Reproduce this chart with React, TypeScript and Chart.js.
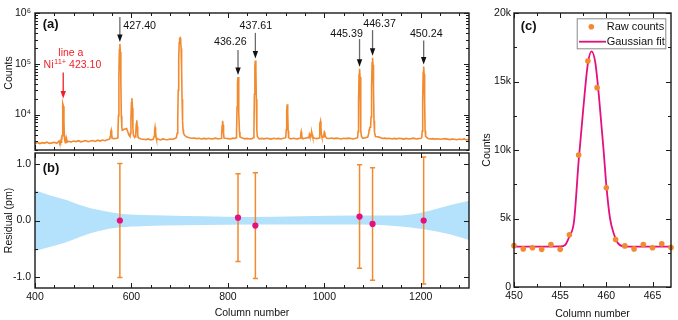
import React, { useEffect, useRef } from 'react';
import { Chart, registerables } from 'chart.js';

Chart.register(...registerables);

const FONT = '"Liberation Sans", Arial, Helvetica, sans-serif';
const ORANGE = '#f28a30';
const MAGENTA = '#e5107f';
const BAND = '#b4e1fb';
const AXIS = '#1a1a1a';
const RED = '#f01e28';
const TEXT = '#111111';
const ARROW_SHAFT = '#6a6a6a';

// ---------------- Panel (a): spectrum ----------------
const baselineStart = 400;
const baselineStep = 5;
const baselineCounts = [
  2700, 2820, 2680, 2790, 2740, 2850, 2700, 2760, 2830, 2720,
  2950, 2800, 2870, 2900, 2960, 2880, 3010, 2930, 3050, 2900,
  2980, 3060, 2920, 3000, 3080, 2950, 3120, 3000, 3150, 3050,
  3170, 3100, 3200, 3350, 3400, 3600, 4800, 5100, 5300, 3900,
  3700, 3800, 3600, 3500, 3300, 3250, 3200, 3300, 3150, 3250,
  3200, 3280, 3150, 3300, 3220, 3180, 3300, 3250, 3350, 3400,
  3800, 3700, 3650, 3600, 3500, 3420, 3450, 3350, 3400, 3300,
  3380, 3320, 3400, 3300, 3350, 3420, 3300, 3380, 3330, 3400,
  3350, 3300, 3420, 3380, 3300, 3360, 3450, 3320, 3380, 3300,
  3350, 3420, 3400, 3300, 3380, 3320, 3400, 3350, 3280, 3400,
  3330, 3380, 3300, 3420, 3450, 3350, 3300, 3400, 3350, 3320,
  3400, 3350, 3420, 3500, 3450, 3380, 3420, 3350, 3400, 3450,
  3500, 3400, 3380, 3450, 3350, 3420, 3380, 3300, 3400, 3350,
  3420, 3380, 3300, 3400, 3360, 3450, 3400, 3500, 3600, 5300,
  3600, 3550, 3650, 3550, 3380, 3420, 3350, 3400, 3300, 3380,
  3320, 3400, 3350, 3280, 3380, 3300, 3350, 3420, 3300, 3350,
  3400, 3550, 3450, 3380, 3300, 3350, 3280, 3320, 3250, 3300,
  3350, 3280, 3200, 3300, 3250, 3180, 3280, 3220, 3300, 3150,
  3250,
];

const peakCols = [
  [555, 556, 557, 558, 559, 560],
  [571, 572, 573, 574, 575, 576, 577, 578, 579, 580, 581],
  [597, 598, 599, 600, 601, 602, 603, 604],
  [608, 609, 610, 611, 612, 613, 614],
  [646, 647, 648, 649, 650, 651, 652],
  [693, 695, 696, 697, 698, 699, 700, 701, 702, 703, 704, 705, 706, 707, 708, 710],
  [786, 787, 788, 789, 790, 791, 792],
  [817, 818, 819, 820, 821, 822, 823, 824, 825],
  [853, 854, 855, 856, 857, 858, 859, 860, 861],
  [920, 921, 922, 923, 924, 925, 926],
  [950, 951, 952, 953, 954],
  [968, 969, 970, 971, 972, 973, 974, 975, 976],
  [989, 990, 991, 992, 993, 994, 995],
  [998, 999, 1000, 1001, 1002],
  [1069, 1070, 1071, 1072, 1073, 1074, 1075, 1076, 1077],
  [1090, 1092, 1093, 1094, 1095, 1096, 1097, 1098, 1099, 1100, 1101, 1102, 1103, 1104, 1106],
  [1202, 1203, 1204, 1205, 1206, 1207, 1208, 1209, 1210],
];
const peakCounts = [
  [3300, 3700, 4500, 4900, 4100, 3400],
  [3500, 4300, 9500, 62000, 190000, 246000, 170000, 45000, 9500, 5600, 4900],
  [3700, 4300, 8500, 17000, 21000, 13500, 5500, 4000],
  [3600, 4300, 6500, 7700, 5800, 4000, 3500],
  [3250, 3700, 4800, 5600, 4700, 3600, 3250],
  [3500, 4300, 8000, 30000, 120000, 260000, 315000, 324000, 300000, 200000, 80000, 20000, 7500, 5000, 4300, 3900],
  [3400, 4000, 6000, 7500, 6200, 4200, 3450],
  [3500, 4500, 14000, 42000, 54600, 38000, 11000, 4500, 3600],
  [3500, 4800, 25000, 90000, 116000, 80000, 20000, 5000, 3700],
  [3500, 5000, 12000, 15900, 11000, 4800, 3500],
  [3450, 4100, 4600, 4000, 3400],
  [3500, 4000, 3700, 3600, 3900, 4300, 4400, 4000, 3600],
  [3450, 4500, 6500, 7400, 5500, 4000, 3600],
  [3600, 4000, 4500, 4300, 3700],
  [3500, 4600, 18000, 62000, 79600, 55000, 15000, 4800, 3700],
  [3600, 4200, 5000, 5500, 5600, 6000, 9000, 35000, 105000, 131000, 95000, 30000, 7500, 4500, 3700],
  [3500, 4700, 20000, 68000, 88500, 62000, 17000, 4800, 3700],
];

const lineCols = [576, 821, 857, 1073, 1100, 1206];
const lineLabels = ['427.40', '436.26', '437.61', '445.39', '446.37', '450.24'];
const linePeaks = [246000, 54600, 116000, 79600, 131000, 88500];
const lineACol = 458.5;
const lineAName = 'line a';
const lineAIon = 'Ni';
const lineACharge = '11+';
const lineAWave = ' 423.10';

// ---------------- Panel (b): residuals ----------------
const residCols = [576, 821, 857, 1073, 1100, 1206];
const residValues = [0.0, 0.05, -0.09, 0.07, -0.06, 0.0];
const residErrors = [1.015, 0.78, 0.94, 0.92, 1.0, 1.13];
const bandCols = [400, 430, 460, 500, 530, 577, 620, 670, 750, 840, 950, 1075, 1160, 1207, 1260, 1300];
const bandUpper = [0.54, 0.45, 0.38, 0.26, 0.19, 0.12, 0.1, 0.09, 0.075, 0.063, 0.075, 0.087, 0.09, 0.15, 0.27, 0.35];
const bandLower = [-0.54, -0.47, -0.4, -0.27, -0.19, -0.12, -0.1, -0.09, -0.08, -0.07, -0.07, -0.07, -0.105, -0.157, -0.245, -0.345];

// ---------------- Panel (c): line a fit ----------------
const rawCols = [450, 451, 452, 453, 454, 455, 456, 457, 458, 459, 460, 461, 462, 463, 464, 465, 466, 467];
const rawCounts = [3020, 2780, 2860, 2750, 3100, 2750, 3810, 9630, 16500, 14550, 7250, 3460, 3000, 2780, 3100, 2860, 3150, 2880];
const fitCols = [450, 452, 454, 455, 455.5, 456, 456.5, 457, 457.5, 458, 458.4, 458.8, 459.2, 459.7, 460, 460.4, 460.8, 461.2, 461.8, 462.5, 464, 467];
const fitCounts = [2950, 2950, 2950, 2960, 3050, 3700, 4800, 9200, 13000, 16300, 17200, 16400, 13900, 10000, 7400, 5000, 3900, 3250, 2970, 2950, 2950, 2950];

const SUP: Record<number, string> = { 3: '³', 4: '⁴', 5: '⁵', 6: '⁶' };

function isPow10(v: number) {
  const l = Math.log10(v);
  return Math.abs(l - Math.round(l)) < 1e-9;
}
function isMult(v: number, m: number) {
  const r = v / m;
  return Math.abs(r - Math.round(r)) < 1e-9;
}

function buildSpectrum() {
  const groups = [{ cols: rawCols, counts: rawCounts }].concat(
    peakCols.map((c, i) => ({ cols: c, counts: peakCounts[i] }))
  );
  const pts: { x: number; y: number }[] = [];
  baselineCounts.forEach((v, i) => {
    const x = baselineStart + i * baselineStep;
    if (groups.some((g) => x >= g.cols[0] && x <= g.cols[g.cols.length - 1])) return;
    pts.push({ x, y: v });
  });
  groups.forEach((g) => g.cols.forEach((c, j) => pts.push({ x: c, y: g.counts[j] })));
  pts.sort((a, b) => a.x - b.x);
  return pts;
}

function framePlugin(xMajor: (v: number) => boolean, yMajor: (v: number) => boolean) {
  return {
    id: 'frame',
    afterDatasetsDraw(chart: any) {
      const { ctx, chartArea: a, scales } = chart;
      const xs = scales.x;
      const ys = scales.y;
      ctx.save();
      ctx.strokeStyle = AXIS;
      ctx.lineWidth = 1;
      ctx.beginPath();
      xs.ticks.forEach((t: any) => {
        const px = Math.round(xs.getPixelForValue(t.value)) + 0.5;
        if (px < a.left - 0.5 || px > a.right + 0.5) return;
        const len = xMajor(t.value) ? 5 : 3;
        ctx.moveTo(px, a.bottom);
        ctx.lineTo(px, a.bottom - len);
        ctx.moveTo(px, a.top);
        ctx.lineTo(px, a.top + len);
      });
      ys.ticks.forEach((t: any) => {
        const py = Math.round(ys.getPixelForValue(t.value)) + 0.5;
        if (py < a.top - 0.5 || py > a.bottom + 0.5) return;
        const len = yMajor(t.value) ? 5 : 3;
        ctx.moveTo(a.left, py);
        ctx.lineTo(a.left + len, py);
        ctx.moveTo(a.right, py);
        ctx.lineTo(a.right - len, py);
      });
      ctx.stroke();
      ctx.lineWidth = 1.4;
      ctx.strokeRect(a.left, a.top, a.right - a.left, a.bottom - a.top);
      ctx.restore();
    },
  };
}

function panelLabel(ctx: CanvasRenderingContext2D, text: string, x: number, y: number) {
  ctx.save();
  ctx.font = `bold 13px ${FONT}`;
  ctx.fillStyle = TEXT;
  ctx.textAlign = 'left';
  ctx.textBaseline = 'middle';
  ctx.fillText(text, x, y);
  ctx.restore();
}

function drawArrow(ctx: CanvasRenderingContext2D, x: number, yTop: number, yTip: number, shaft: string, head: string) {
  ctx.save();
  ctx.strokeStyle = shaft;
  ctx.lineWidth = 1.3;
  ctx.beginPath();
  ctx.moveTo(x, yTop);
  ctx.lineTo(x, yTip - 6);
  ctx.stroke();
  ctx.fillStyle = head;
  ctx.beginPath();
  ctx.moveTo(x - 2.7, yTip - 7.5);
  ctx.lineTo(x + 2.7, yTip - 7.5);
  ctx.lineTo(x, yTip);
  ctx.closePath();
  ctx.fill();
  ctx.restore();
}

const arrowStyle = [
  { len: 25, dx: 3.5, dy: 9, align: 'left' },
  { len: 25, dx: -7.7, dy: -8.3, align: 'center' },
  { len: 25.6, dx: 0.5, dy: -6.7, align: 'center' },
  { len: 27.7, dx: -13, dy: -4.7, align: 'center' },
  { len: 25.7, dx: 7, dy: -6, align: 'center' },
  { len: 24, dx: 2.6, dy: -6.7, align: 'center' },
];

const annotPluginA = {
  id: 'annotA',
  afterDraw(chart: any) {
    const { ctx, chartArea: a, scales } = chart;
    const xs = scales.x;
    const ys = scales.y;
    ctx.save();
    lineCols.forEach((c, i) => {
      const st = arrowStyle[i];
      const x = xs.getPixelForValue(c);
      const tip = ys.getPixelForValue(linePeaks[i]) - 2;
      const top = tip - st.len;
      drawArrow(ctx, x, top, tip, ARROW_SHAFT, '#111');
      ctx.font = `10.7px ${FONT}`;
      ctx.fillStyle = TEXT;
      ctx.textAlign = st.align as CanvasTextAlign;
      ctx.textBaseline = 'middle';
      ctx.fillText(lineLabels[i], x + st.dx, top + st.dy);
    });
    const ax = xs.getPixelForValue(lineACol);
    const aTip = ys.getPixelForValue(Math.max(...rawCounts)) - 5;
    const aTop = aTip - 26;
    drawArrow(ctx, ax, aTop, aTip, RED, RED);
    ctx.fillStyle = RED;
    ctx.textBaseline = 'middle';
    ctx.textAlign = 'center';
    ctx.font = `10.5px ${FONT}`;
    ctx.fillText(lineAName, ax + 7.7, aTop - 19.7);
    const big = `10.5px ${FONT}`;
    const small = `7.5px ${FONT}`;
    ctx.font = big;
    const w1 = ctx.measureText(lineAIon).width;
    const w3 = ctx.measureText(lineAWave).width;
    ctx.font = small;
    const w2 = ctx.measureText(lineACharge).width;
    let tx = ax + 9.2 - (w1 + w2 + w3 + 0.5) / 2;
    const ty = aTop - 7;
    ctx.textAlign = 'left';
    ctx.font = big;
    ctx.fillText(lineAIon, tx, ty);
    tx += w1 + 0.5;
    ctx.font = small;
    ctx.fillText(lineACharge, tx, ty - 4);
    tx += w2;
    ctx.font = big;
    ctx.fillText(lineAWave, tx, ty);
    ctx.save();
    ctx.translate(9.5, 73);
    ctx.rotate(-Math.PI / 2);
    ctx.fillStyle = TEXT;
    ctx.textAlign = 'center';
    ctx.font = `10.5px ${FONT}`;
    ctx.fillText('Counts', 0, 0);
    ctx.restore();
    ctx.restore();
    panelLabel(ctx, '(a)', a.left + 7.7, a.top + 11.3);
  },
};

const errorBarPlugin = {
  id: 'errbars',
  beforeDatasetDraw(chart: any, args: any) {
    if (args.index !== 2) return;
    const { ctx, scales } = chart;
    const xs = scales.x;
    const ys = scales.y;
    ctx.save();
    ctx.strokeStyle = ORANGE;
    ctx.lineWidth = 1.5;
    ctx.beginPath();
    residCols.forEach((c, i) => {
      const x = xs.getPixelForValue(c);
      const y1 = ys.getPixelForValue(residValues[i] + residErrors[i]);
      const y2 = ys.getPixelForValue(residValues[i] - residErrors[i]);
      ctx.moveTo(x, y1);
      ctx.lineTo(x, y2);
      ctx.moveTo(x - 2.6, y1);
      ctx.lineTo(x + 2.6, y1);
      ctx.moveTo(x - 2.6, y2);
      ctx.lineTo(x + 2.6, y2);
    });
    ctx.stroke();
    ctx.restore();
  },
  afterDraw(chart: any) {
    panelLabel(chart.ctx, '(b)', chart.chartArea.left + 7.7, chart.chartArea.top + 15.5);
  },
};

const legendPluginC = {
  id: 'legendC',
  afterDraw(chart: any) {
    const { ctx, chartArea: a } = chart;
    const ds = chart.data.datasets;
    const bx = a.right - 94.3;
    const by = a.top + 5.3;
    const bw = 88.6;
    const bh = 30;
    ctx.save();
    ctx.fillStyle = '#fff';
    ctx.fillRect(bx, by, bw, bh);
    ctx.strokeStyle = '#8a8a8a';
    ctx.lineWidth = 1;
    ctx.strokeRect(bx + 0.5, by + 0.5, bw, bh);
    ctx.fillStyle = ds[0].pointBackgroundColor;
    ctx.beginPath();
    ctx.arc(bx + 14.6, by + 8.4, 2.8, 0, Math.PI * 2);
    ctx.fill();
    ctx.strokeStyle = ds[1].borderColor;
    ctx.lineWidth = 1.8;
    ctx.beginPath();
    ctx.moveTo(bx + 2.3, by + 23.4);
    ctx.lineTo(bx + 29.3, by + 23.4);
    ctx.stroke();
    ctx.fillStyle = TEXT;
    ctx.font = `11px ${FONT}`;
    ctx.textAlign = 'left';
    ctx.textBaseline = 'middle';
    ctx.fillText(ds[0].label, bx + 30, by + 8.4);
    ctx.fillText(ds[1].label, bx + 30, by + 23.4);
    ctx.restore();
    panelLabel(ctx, '(c)', a.left + 6.7, a.top + 13.7);
  },
};

function logTicks() {
  const t: { value: number }[] = [];
  for (let e = 3; e <= 5; e++) {
    for (let m = 1; m <= 9; m++) {
      const v = m * Math.pow(10, e);
      if (v >= 2000) t.push({ value: v });
    }
  }
  t.push({ value: 1e6 });
  return t;
}

const tickFont = { family: FONT, size: 10.5 };
const titleFont = { family: FONT, size: 10.5 };

function makeA(canvas: HTMLCanvasElement) {
  return new Chart(canvas, {
    type: 'line',
    data: {
      datasets: [
        { label: 'Spectrum', data: buildSpectrum(), borderColor: ORANGE, borderWidth: 1.6, pointRadius: 0, tension: 0, fill: false },
      ],
    },
    options: {
      responsive: false,
      animation: false,
      devicePixelRatio: 1,
      events: [],
      layout: { padding: { left: 0, right: 11, top: 13, bottom: 1 } },
      plugins: { legend: { display: false }, tooltip: { enabled: false } },
      scales: {
        x: {
          type: 'linear', min: 400, max: 1300,
          ticks: { display: false, stepSize: 40, autoSkip: false, includeBounds: false },
          grid: { display: false, drawTicks: false }, border: { display: false },
          afterFit: (s: any) => { s.height = 0; s.paddingLeft = 0; s.paddingRight = 0; },
        },
        y: {
          type: 'logarithmic', min: 2000, max: 1e6,
          afterBuildTicks: (s: any) => { s.ticks = logTicks(); },
          ticks: {
            autoSkip: false, padding: 4, font: tickFont, color: TEXT,
            callback: (v: any) => (isPow10(Number(v)) ? '10' + SUP[Math.round(Math.log10(Number(v)))] : ''),
          },
          grid: { display: false, drawTicks: false }, border: { display: false },
          afterFit: (s: any) => { s.width = 35; s.paddingTop = 0; s.paddingBottom = 0; },
        },
      },
    } as any,
    plugins: [framePlugin((v) => isMult(v, 200), isPow10), annotPluginA],
  });
}

function makeB(canvas: HTMLCanvasElement) {
  return new Chart(canvas, {
    type: 'line',
    data: {
      datasets: [
        {
          label: 'Band upper', data: bandCols.map((x, i) => ({ x, y: bandUpper[i] })),
          borderWidth: 0, borderColor: 'rgba(0,0,0,0)', pointRadius: 0, fill: '+1', backgroundColor: BAND,
          cubicInterpolationMode: 'monotone', order: 2,
        },
        {
          label: 'Band lower', data: bandCols.map((x, i) => ({ x, y: bandLower[i] })),
          borderWidth: 0, borderColor: 'rgba(0,0,0,0)', pointRadius: 0, fill: false,
          cubicInterpolationMode: 'monotone', order: 2,
        },
        {
          label: 'Residual', data: residCols.map((x, i) => ({ x, y: residValues[i] })),
          showLine: false, pointRadius: 3.1, pointBackgroundColor: MAGENTA, pointBorderColor: MAGENTA, pointBorderWidth: 0, order: 0,
        },
      ],
    },
    options: {
      responsive: false,
      animation: false,
      devicePixelRatio: 1,
      events: [],
      layout: { padding: { left: 0, right: 11, top: 1, bottom: 0 } },
      plugins: { legend: { display: false }, tooltip: { enabled: false } },
      scales: {
        x: {
          type: 'linear', min: 400, max: 1300,
          ticks: {
            stepSize: 40, autoSkip: false, includeBounds: false, maxRotation: 0, padding: 3, font: tickFont, color: TEXT,
            callback: (v: any) => (isMult(Number(v), 200) ? String(v) : ''),
          },
          title: { display: true, text: 'Column number', font: titleFont, color: TEXT, padding: { top: 0, bottom: 1 } },
          grid: { display: false, drawTicks: false }, border: { display: false },
          afterFit: (s: any) => { s.height = 32; s.paddingLeft = 0; s.paddingRight = 0; },
        },
        y: {
          type: 'linear', min: -1.2, max: 1.2,
          ticks: {
            stepSize: 0.5, autoSkip: false, includeBounds: false, padding: 4, font: tickFont, color: TEXT,
            callback: (v: any) => (isMult(Number(v), 1) ? (Math.abs(Number(v)) < 1e-9 ? '0.0' : Number(v).toFixed(1)) : ''),
          },
          title: { display: true, text: 'Residual (pm)', font: titleFont, color: TEXT, padding: { top: 3, bottom: 0 } },
          grid: { display: false, drawTicks: false }, border: { display: false },
          afterFit: (s: any) => { s.width = 35; s.paddingTop = 0; s.paddingBottom = 0; },
        },
      },
    } as any,
    plugins: [framePlugin((v) => isMult(v, 200), (v) => isMult(v, 1)), errorBarPlugin],
  });
}

function makeC(canvas: HTMLCanvasElement) {
  return new Chart(canvas, {
    type: 'line',
    data: {
      datasets: [
        {
          label: 'Raw counts', data: rawCols.map((x, i) => ({ x, y: rawCounts[i] })),
          showLine: false, pointRadius: 2.8, pointBackgroundColor: ORANGE, pointBorderColor: ORANGE, pointBorderWidth: 0, order: 0,
          clip: false,
        },
        {
          label: 'Gaussian fit', data: fitCols.map((x, i) => ({ x, y: fitCounts[i] })),
          borderColor: MAGENTA, borderWidth: 1.8, pointRadius: 0, fill: false, cubicInterpolationMode: 'monotone', order: 1,
        },
      ],
    },
    options: {
      responsive: false,
      animation: false,
      devicePixelRatio: 1,
      events: [],
      layout: { padding: { left: 0, right: 7, top: 13, bottom: 0 } },
      plugins: { legend: { display: false }, tooltip: { enabled: false } },
      scales: {
        x: {
          type: 'linear', min: 450, max: 467,
          ticks: {
            stepSize: 2.5, autoSkip: false, includeBounds: false, maxRotation: 0, padding: 3, font: tickFont, color: TEXT,
            callback: (v: any) => (isMult(Number(v), 5) ? String(v) : ''),
          },
          title: { display: true, text: 'Column number', font: titleFont, color: TEXT, padding: { top: 0, bottom: 0 } },
          grid: { display: false, drawTicks: false }, border: { display: false },
          afterFit: (s: any) => { s.height = 33; s.paddingLeft = 0; s.paddingRight = 0; },
        },
        y: {
          type: 'linear', min: 0, max: 20000,
          ticks: {
            stepSize: 2500, autoSkip: false, includeBounds: false, padding: 3, font: tickFont, color: TEXT,
            callback: (v: any) => {
              const n = Number(v);
              if (!isMult(n, 5000)) return '';
              return n === 0 ? '0' : n / 1000 + 'k';
            },
          },
          title: { display: true, text: 'Counts', font: titleFont, color: TEXT, padding: { top: 1, bottom: 0 } },
          grid: { display: false, drawTicks: false }, border: { display: false },
          afterFit: (s: any) => { s.width = 34; s.paddingTop = 0; s.paddingBottom = 0; },
        },
      },
    } as any,
    plugins: [framePlugin((v) => isMult(v, 5), (v) => isMult(v, 5000)), legendPluginC],
  });
}

export default function App() {
  const refA = useRef<HTMLCanvasElement>(null);
  const refB = useRef<HTMLCanvasElement>(null);
  const refC = useRef<HTMLCanvasElement>(null);

  useEffect(() => {
    document.body.style.margin = '0';
    Chart.defaults.font.family = FONT;
    Chart.defaults.font.size = 10.5;
    Chart.defaults.color = TEXT;
    const charts = [makeA(refA.current!), makeB(refB.current!), makeC(refC.current!)];
    return () => charts.forEach((c) => c.destroy());
  }, []);

  return (
    <div style={{ position: 'absolute', left: 0, top: 0, width: 678, height: 320, background: '#fff', overflow: 'hidden' }}>
      <canvas ref={refA} width={480} height={151} style={{ position: 'absolute', left: 0, top: 0, width: 480, height: 151 }} />
      <canvas ref={refB} width={480} height={171} style={{ position: 'absolute', left: 0, top: 149, width: 480, height: 171 }} />
      <canvas ref={refC} width={198} height={320} style={{ position: 'absolute', left: 480, top: 0, width: 198, height: 320 }} />
    </div>
  );
}
